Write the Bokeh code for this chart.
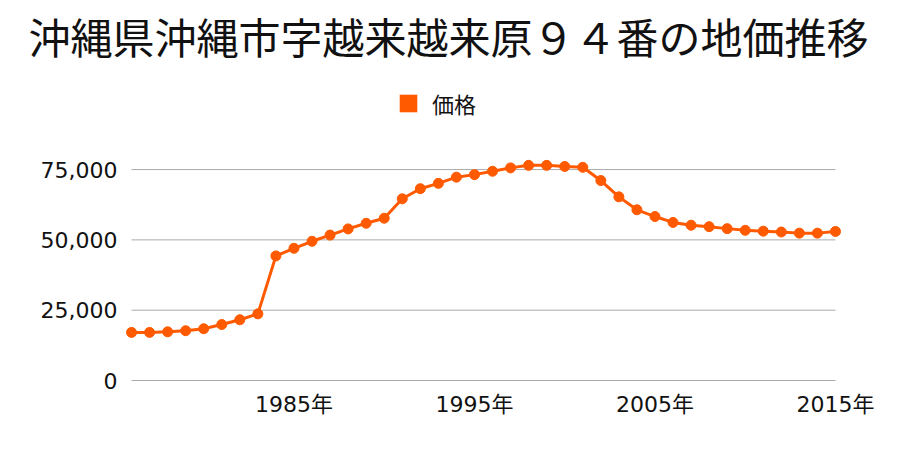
from bokeh.plotting import figure
from bokeh.layouts import column
from bokeh.models import ColumnDataSource, FixedTicker, Legend, LegendItem, Range1d
from bokeh.embed import file_html
from bokeh.resources import INLINE

title_text = "沖縄県沖縄市字越来越来原９４番の地価推移"
series_name = "価格"
years = list(range(1976, 2016))
prices = [17100, 17100, 17300, 17700, 18400, 19900, 21600, 23700,
          44300, 47000, 49500, 51700, 53900, 55900, 57700,
          64600, 68200, 70100, 72300, 73200, 74400, 75600, 76500, 76500, 76100, 75800,
          71100, 65300, 60700, 58300, 56200, 55200, 54700, 54000, 53400, 53100,
          52800, 52400, 52400, 53000]
x_ticks = [1985, 1995, 2005, 2015]
x_tick_labels = ["1985年", "1995年", "2005年", "2015年"]
y_ticks = [0, 25000, 50000, 75000]
y_tick_labels = ["0", "25,000", "50,000", "75,000"]

ORANGE = "#ff5a00"
CJK = "Noto Sans CJK JP"
NUM = "DejaVu Sans, 'Noto Sans CJK JP'"

src = ColumnDataSource(dict(x=years, y=prices))

# ---- header: title + legend ----
head = figure(width=900, height=155, output_backend="svg", toolbar_location=None,
              x_range=Range1d(0, 1), y_range=Range1d(0, 1),
              x_axis_location=None, y_axis_location=None, title=title_text,
              min_border_left=0, min_border_right=0, min_border_top=0, min_border_bottom=0)
head.outline_line_color = None
head.xgrid.visible = False
head.ygrid.visible = False
head.border_fill_color = "white"
head.background_fill_color = "white"
head.title.align = "left"
head.title.offset = -94
head.title.text_font = CJK
head.title.text_font_size = "42px"
head.title.text_font_style = "normal"
head.title.text_color = "#111111"
head.title.vertical_align = "middle"
head.title.standoff = 6

# zero-size rects: only used to draw the filled legend swatch
leg_r = head.rect("x", "y", width=0, height=0, source=src, fill_color=ORANGE, line_color=None)
legend = Legend(items=[LegendItem(label=series_name, renderers=[leg_r], index=0)],
                location=(275, 36), orientation="horizontal",
                glyph_width=22, glyph_height=22, label_standoff=13,
                label_text_font=CJK, label_text_font_size="22px",
                label_text_color="#111111", padding=0, margin=0,
                border_line_color=None, background_fill_alpha=0, spacing=0)
head.add_layout(legend)

# ---- chart ----
p = figure(width=900, height=295, output_backend="svg", toolbar_location=None,
           x_range=Range1d(1975.5, 2015.5), y_range=Range1d(-1420, 80000),
           min_border_left=122, min_border_right=56, min_border_top=0, min_border_bottom=66)
p.outline_line_color = None
p.background_fill_color = "white"
p.border_fill_color = "white"
p.xgrid.visible = False
p.ygrid.visible = False

p.segment(x0=years[0], x1=years[-1], y0=y_ticks, y1=y_ticks,
          line_color="#aaaaaa", line_width=1, level="underlay")
p.line("x", "y", source=src, line_color=ORANGE, line_width=3)
p.scatter("x", "y", source=src, size=10, fill_color=ORANGE, line_color=ORANGE)

for ax in (p.xaxis, p.yaxis):
    ax.axis_line_color = None
    ax.major_tick_line_color = None
    ax.minor_tick_line_color = None
    ax.major_tick_out = 0
    ax.major_tick_in = 0
    ax.major_label_text_font = NUM
    ax.major_label_text_font_size = "22px"
    ax.major_label_text_color = "#111111"

p.xaxis.ticker = FixedTicker(ticks=x_ticks)
p.xaxis.major_label_overrides = dict(zip(x_ticks, x_tick_labels))
p.xaxis.major_label_standoff = 7
p.yaxis.ticker = FixedTicker(ticks=y_ticks)
p.yaxis.major_label_overrides = dict(zip(y_ticks, y_tick_labels))
p.yaxis.major_label_standoff = 5

layout = column(head, p, spacing=0)
open("out.html", "w").write(file_html(layout, INLINE))
